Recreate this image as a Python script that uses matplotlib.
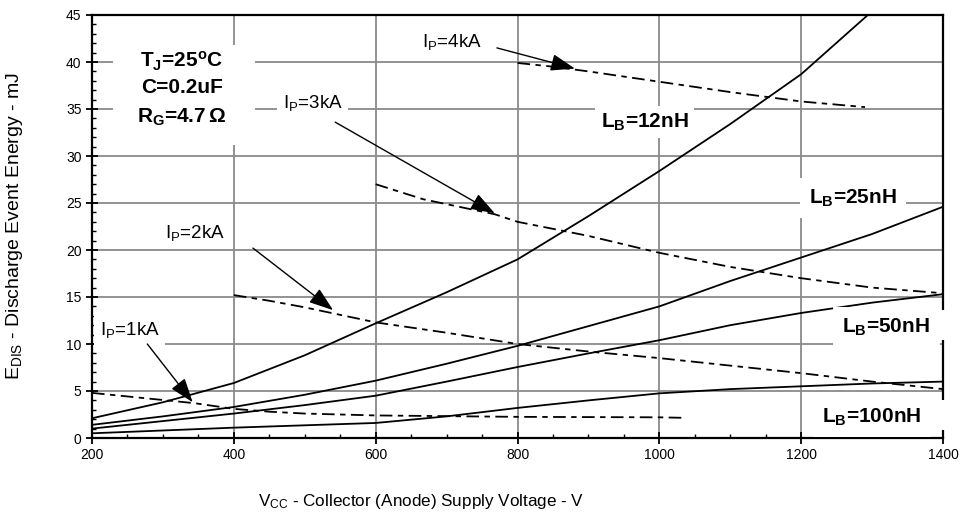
import matplotlib
matplotlib.use("Agg")
import matplotlib.pyplot as plt
from matplotlib.patches import Rectangle
from matplotlib.ticker import MultipleLocator

plt.rcParams["font.family"] = ["Liberation Sans", "DejaVu Sans"]
plt.rcParams["mathtext.fontset"] = "custom"
plt.rcParams["mathtext.rm"] = "Liberation Sans"
plt.rcParams["mathtext.it"] = "Liberation Sans:italic"
plt.rcParams["mathtext.bf"] = "Liberation Sans:bold"

# solid curves: constant L_B
v_12nh = [200, 300, 400, 500, 600, 700, 800, 900, 1000, 1100, 1200, 1294]
e_12nh = [2.1, 3.8, 5.85, 8.8, 12.2, 15.5, 19.0, 23.6, 28.4, 33.4, 38.7, 45.0]
v_lb = [200, 300, 400, 500, 600, 700, 800, 900, 1000, 1100, 1200, 1300, 1400]
e_25nh = [1.4, 2.3, 3.3, 4.6, 6.1, 7.9, 9.8, 11.9, 14.0, 16.7, 19.2, 21.7, 24.6]
e_50nh = [1.0, 1.8, 2.6, 3.5, 4.5, 6.0, 7.55, 9.0, 10.4, 12.0, 13.3, 14.4, 15.3]
e_100nh = [0.5, 0.8, 1.1, 1.35, 1.6, 2.3, 3.2, 4.0, 4.75, 5.2, 5.5, 5.8, 6.0]

# dashed curves: constant peak current I_P
v_1ka = [200, 345, 400, 450, 500, 600, 800, 1000, 1032]
e_1ka = [4.8, 3.7, 3.1, 2.8, 2.6, 2.4, 2.25, 2.2, 2.15]
v_2ka = [400, 450, 500, 550, 600, 700, 800, 900, 1000, 1100, 1200, 1300, 1400]
e_2ka = [15.2, 14.6, 13.9, 13.1, 12.3, 11.2, 10.0, 9.2, 8.5, 7.7, 6.9, 6.0, 5.2]
v_3ka = [600, 667, 768, 800, 900, 1000, 1100, 1200, 1300, 1400]
e_3ka = [27.0, 25.4, 23.8, 23.0, 21.5, 19.7, 18.2, 17.0, 16.0, 15.4]
v_4ka = [800, 850, 900, 1000, 1100, 1200, 1290]
e_4ka = [39.9, 39.5, 39.0, 37.9, 36.8, 35.8, 35.2]

fig = plt.figure(figsize=(9.63, 5.17), dpi=100)
ax = fig.add_axes([92/963, 79/517, 851/963, 423/517])

ax.grid(True, which="major", color="#8a8a8a", lw=1.3, zorder=0)
ax.set_axisbelow(True)

lk = dict(color="black", lw=1.3, zorder=2)
for v, e in [(v_12nh, e_12nh), (v_lb, e_25nh), (v_lb, e_50nh), (v_lb, e_100nh)]:
    ax.plot(v, e, **lk)
dash = (0, (7, 3, 3, 3))
for v, e in [(v_1ka, e_1ka), (v_2ka, e_2ka), (v_3ka, e_3ka), (v_4ka, e_4ka)]:
    ax.plot(v, e, linestyle=dash, **lk)

ax.set_xlim(200, 1400)
ax.set_ylim(0, 45)
ax.xaxis.set_major_locator(MultipleLocator(200))
ax.xaxis.set_minor_locator(MultipleLocator(50))
ax.yaxis.set_major_locator(MultipleLocator(5))
ax.yaxis.set_minor_locator(MultipleLocator(1))
ax.tick_params(which="major", direction="inout", length=9, width=1.3, labelsize=10, pad=3)
ax.tick_params(which="minor", direction="in", length=3, width=1.0)
for s in ax.spines.values():
    s.set_linewidth(1.6)

ax.set_xlabel(r"V$_\mathrm{CC}$ - Collector (Anode) Supply Voltage - V", fontsize=12.3)
ax.xaxis.set_label_coords(0.387, -0.128)
ax.set_ylabel(r"E$_\mathrm{DIS}$ - Discharge Event Energy - mJ", fontsize=14)
ax.yaxis.set_label_coords(-0.079, 0.5)

# condition block
ax.add_patch(Rectangle((230, 31.2), 200, 10.6, fc="white", ec="none", zorder=1))
bold = dict(fontsize=15, fontweight="bold", ha="center", va="center", zorder=3)
ax.text(327, 40.1, r"T$_\mathbf{J}$=25$^\mathbf{o}$C", **bold)
ax.text(327, 37.3, "C=0.2uF", **bold)
ax.text(327, 34.1, r"R$_\mathbf{G}$=4.7$\,$Ω", **bold)

# white gaps in the right frame behind the lower L_B labels
for y0, h in [(10.4, 3.2), (0.85, 3.2)]:
    ax.add_patch(Rectangle((1380, y0), 30, h, fc="white", ec="none",
                           zorder=3, clip_on=False))

box = dict(boxstyle="square,pad=0.45", fc="white", ec="none")
lb = dict(fontsize=15, fontweight="bold", ha="center", va="center", zorder=4, bbox=box)
ax.text(979, 33.6, r"L$_\mathbf{B}$=12nH", fontsize=15, fontweight="bold", ha="center",
        va="center", zorder=4, bbox=dict(boxstyle="square,pad=0.25", fc="white", ec="none"))
ax.text(1273, 25.5, r"L$_\mathbf{B}$=25nH", **lb)
ax.text(1320, 11.8, r"L$_\mathbf{B}$=50nH", **lb)
ax.text(1300, 2.2, r"L$_\mathbf{B}$=100nH", **lb)

ip = dict(fontsize=13.5, ha="left", va="center", zorder=4,
          bbox=dict(boxstyle="square,pad=0.3", fc="white", ec="none"))
ax.text(665, 42.1, r"I$_\mathrm{P}$=4kA", **ip)
ax.text(469, 35.6, r"I$_\mathrm{P}$=3kA", **ip)
ax.text(303, 21.8, r"I$_\mathrm{P}$=2kA", **ip)
ax.text(211, 11.5, r"I$_\mathrm{P}$=1kA", **ip)

arr = dict(arrowstyle="-|>,head_length=1.0,head_width=0.35", mutation_scale=15,
           color="black", lw=1.0, shrinkA=0, shrinkB=0)
for start, tip in [((771, 41.5), (881, 39.3)), ((543, 33.6), (768, 23.9)),
                   ((427, 20.2), (540, 13.6)), ((278, 10.0), (342, 3.8))]:
    ax.annotate("", xy=tip, xytext=start, arrowprops=arr, zorder=5)

fig.savefig("out.png", dpi=100)
